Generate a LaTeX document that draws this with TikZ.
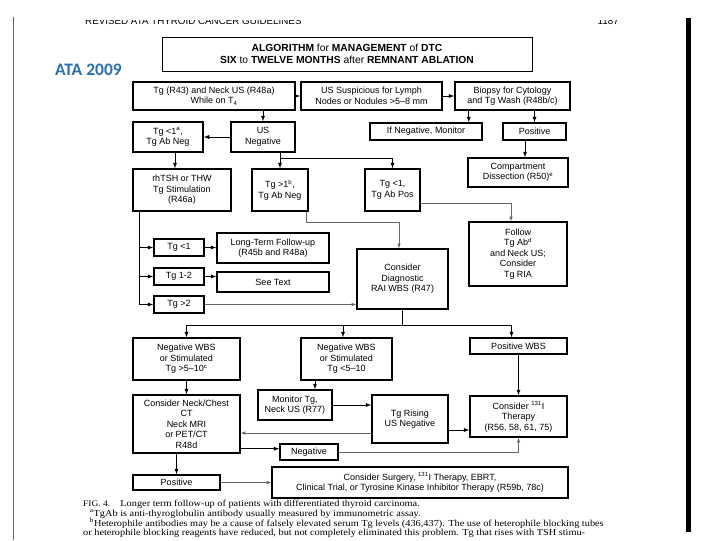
\documentclass[tikz,border=0pt]{standalone}
\usepackage{fontspec}
\setmainfont{Liberation Serif}
\setsansfont{Liberation Sans}
\newfontfamily\atafont{Carlito}
\usepackage{tikz}
\usetikzlibrary{arrows}

\definecolor{atablue}{RGB}{40,112,176}
\newcommand{\boxfont}{\sffamily\fontsize{9}{10.5}\selectfont}
\newcommand{\capfont}{\rmfamily\fontsize{9.2}{9.6}\selectfont\lineskiplimit=-8pt\relax}

\begin{document}
\begin{tikzpicture}[x=1pt,y=-1pt,>=latex,
  box/.style={draw, line width=1.5pt, align=center, inner sep=1pt, font=\boxfont},
  link/.style={->, line width=0.9pt},
  faint/.style={->, line width=0.6pt, color=black!60},
  caption/.style={anchor=north west, inner sep=0pt}]
\fill[white] (0,0) rectangle (720,540);
% page edges
\draw[line width=0.6pt, black!60] (13,17) -- (13,540);
\fill (686,18) rectangle (691,532);
\begin{scope}
  \clip (0,20.5) rectangle (720,40);
  \node[anchor=base west, inner sep=0pt, font=\sffamily\fontsize{9.8}{9.8}\selectfont] (head) at (85,25) {REVISED ATA THYROID CANCER GUIDELINES};
  \node[anchor=base east, inner sep=0pt, font=\sffamily\fontsize{9.8}{9.8}\selectfont] (page) at (619,25) {1187};
\end{scope}
\node[anchor=west, inner sep=0pt, text=atablue, font=\atafont\bfseries\fontsize{17.5}{17.5}\selectfont] (ata) at (55,70) {ATA 2009};
%
\node[box, line width=0.9pt, minimum width=370, minimum height=34, font=\sffamily\fontsize{10.3}{12}\selectfont\bfseries] (title) at (347,54)
  {ALGORITHM {\mdseries for} MANAGEMENT {\mdseries of} DTC\\SIX {\mdseries to} TWELVE MONTHS {\mdseries after} REMNANT ABLATION};
% first rows
\node[box, minimum width=162, minimum height=28] (A) at (214,96) {Tg (R43) and Neck US (R48a)\\While on T\textsubscript{4}};
\node[box, minimum width=141, minimum height=28] (B) at (371.5,96) {US Suspicious for Lymph\\Nodes or Nodules >5--8 mm};
\node[box, minimum width=115, minimum height=28] (C) at (512.5,96) {Biopsy for Cytology\\and Tg Wash (R48b/c)};
\node[box, minimum width=70, minimum height=30] (D) at (168,137) {Tg <1\textsuperscript{a},\\Tg Ab Neg};
\node[box, minimum width=64, minimum height=30] (E) at (263,137) {US\\Negative};
\node[box, minimum width=112, minimum height=17] (F) at (426,131.5) {If Negative, Monitor};
\node[box, minimum width=63, minimum height=17] (pos1) at (534.5,131.5) {Positive};
\node[box, minimum width=100, minimum height=29] (J) at (518,172.5) {Compartment\\Dissection (R50)\textsuperscript{e}};
\node[box, minimum width=98, minimum height=42] (G) at (182,190) {rhTSH or THW\\Tg Stimulation\\(R46a)};
\node[box, minimum width=56, minimum height=42] (H) at (280,190) {Tg >1\textsuperscript{b},\\Tg Ab Neg};
\node[box, minimum width=55, minimum height=42] (I) at (392.5,190) {Tg <1,\\Tg Ab Pos};
% stimulated Tg
\node[box, minimum width=50, minimum height=17] (K) at (179,247.5) {Tg <1};
\node[box, minimum width=50, minimum height=17] (L) at (179,276.5) {Tg 1-2};
\node[box, minimum width=50, minimum height=17] (M) at (179,304.5) {Tg >2};
\node[box, minimum width=112, minimum height=30] (N) at (273,248) {Long-Term Follow-up\\(R45b and R48a)};
\node[box, minimum width=112, minimum height=20] (O) at (273,282) {See Text};
\node[box, minimum width=91, minimum height=60] (P) at (402.5,279) {Consider\\Diagnostic\\RAI WBS (R47)};
\node[box, minimum width=98, minimum height=64] (Q) at (518,254) {Follow\\Tg Ab\textsuperscript{d}\\and Neck US;\\Consider\\Tg RIA};
% WBS results
\node[box, minimum width=107, minimum height=42] (R) at (186.5,359) {Negative WBS\\or Stimulated\\Tg >5--10\textsuperscript{c}};
\node[box, minimum width=91, minimum height=42] (S) at (346.5,359) {Negative WBS\\or Stimulated\\Tg <5--10};
\node[box, minimum width=97, minimum height=16] (T) at (518.5,346) {Positive WBS};
\node[box, minimum width=107, minimum height=58] (U) at (186.5,424) {Consider Neck/Chest\\CT\\Neck MRI\\or PET/CT\\R48d};
\node[box, minimum width=74, minimum height=30] (V) at (295,405) {Monitor Tg,\\Neck US (R77)};
\node[box, minimum width=76, minimum height=48] (W) at (410,419) {Tg Rising\\US Negative};
\node[box, minimum width=97, minimum height=41] (X) at (518.5,416.5) {Consider \textsuperscript{131}I\\Therapy\\(R56, 58, 61, 75)};
\node[box, minimum width=58, minimum height=16] (neg) at (309,452) {Negative};
\node[box, minimum width=87, minimum height=15] (pos2) at (176.5,482.5) {Positive};
\node[box, minimum width=296, minimum height=31] (Z) at (420,482.5) {Consider Surgery, \textsuperscript{131}I Therapy, EBRT,\\Clinical Trial, or Tyrosine Kinase Inhibitor Therapy (R59b, 78c)};
%
\draw[link] (A) -- (B);
\draw[link] (B) -- (C);
\draw[link] (A.south -| E.north) -- (E.north);
\draw[link] (E) -- (D);
\draw[link] ([xshift=-14pt]F.north east |- C.south) -- ([xshift=-14pt]F.north east);
\draw[link] (C.south -| pos1.north) -- (pos1.north);
\draw[link] ([xshift=7pt]J.north |- pos1.south) -- ([xshift=7pt]J.north);
\draw[link] ([xshift=7pt]D.south) -- ([xshift=7pt]D.south |- G.north);
\coordinate (eb) at (280,158);
\draw[line width=0.9pt] (E.south -| H.north) -- (eb);
\draw[link] (eb) -- (H.north);
\draw[link] (eb) -| (I.north);
\draw[link] ([xshift=7pt]G.south west) |- (K.west);
\draw[link] ([xshift=7pt]G.south west) |- (L.west);
\draw[link] ([xshift=7pt]G.south west) |- (M.west);
\draw[link] (K.east) -- (K.east -| N.west);
\draw[link] (L.east) -- (L.east -| O.west);
\draw[faint] (M.east) -- (M.east -| P.west);
\draw[faint] ([xshift=-2pt]H.south east) -- ++(0,11) -| ([xshift=-3.5pt]P.north);
\draw[faint] ([yshift=8pt]I.south east) -| ([xshift=-7pt]Q.north);
%
\draw[link] (P.south) -- ++(0,16) -| (R.north);
\draw[link] (P.south) -- ++(0,16) -| ([xshift=-3.5pt]S.north);
\draw[link] (P.south) -- ++(0,16) -| ([xshift=-7pt]T.north);
\draw[link] (R) -- (U);
\draw[link] ([xshift=20pt]V.north |- S.south) -- ([xshift=20pt]V.north);
\draw[link] (V.east) -- (V.east -| W.west);
\draw[link] (T) -- (X);
\draw[link] ([yshift=-11pt]W.east) -- ([yshift=-11pt]W.east -| X.west);
\draw[faint] ([yshift=-14pt]W.west) -- ([yshift=-14pt]W.west -| U.east);
\draw[link] ([yshift=5pt]U.south east) -- ([yshift=5pt]U.south east -| neg.west);
\draw[faint] (neg.east) -| (X.south);
\draw[link] (pos2.north |- U.south) -- (pos2.north);
\draw[faint] (pos2) -- (Z);
% caption
\node[caption] (cap) at (83,500.2) {\scalebox{1.12}[1]{\parbox[t]{500pt}{\capfont
  {\fontsize{8.4}{9.6}\selectfont FIG. 4.}\quad Longer term follow-up of patients with differentiated thyroid carcinoma.\\
  \hspace*{6pt}\textsuperscript{a}TgAb is anti-thyroglobulin antibody usually measured by immunometric assay.\\
  \hspace*{6pt}\textsuperscript{b}Heterophile antibodies may be a cause of falsely elevated serum Tg levels (436,437). The use of heterophile blocking tubes\\
  or heterophile blocking reagents have reduced, but not completely eliminated this problem. Tg that rises with TSH stimu-}}};
\end{tikzpicture}
\end{document}
